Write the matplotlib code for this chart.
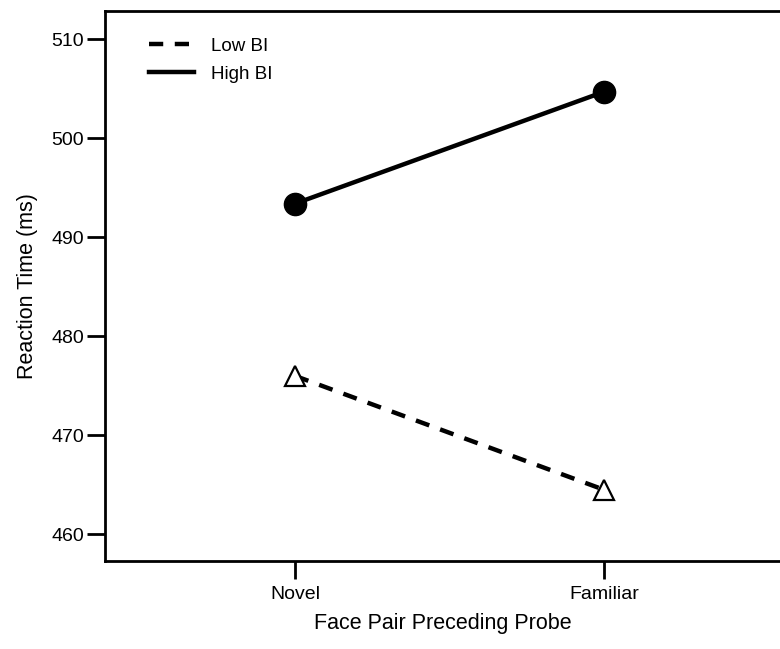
import matplotlib
matplotlib.use('Agg')
import matplotlib.pyplot as plt
from matplotlib.lines import Line2D

plt.rcParams['font.family'] = ['Liberation Sans', 'DejaVu Sans']

CONDITIONS = ['Novel', 'Familiar']
LOW_BI = [476.0, 464.5]
HIGH_BI = [493.4, 504.7]
Y_TICKS = [460, 470, 480, 490, 500, 510]

fig = plt.figure(figsize=(7.8, 6.49), dpi=100)
ax = fig.add_axes([0.1346, 0.1356, 0.8654, 0.848])

x = [1, 2]
ax.plot(x, LOW_BI, color='black', linewidth=3.2, linestyle=(0, (3.2, 2.6)),
        marker='^', markersize=15, markerfacecolor='white', markeredgecolor='black',
        markeredgewidth=1.6, label='Low BI')
ax.plot(x, HIGH_BI, color='black', linewidth=3.2, linestyle='-',
        marker='o', markersize=16, markerfacecolor='black', markeredgecolor='black',
        label='High BI')

ax.set_xlim(0.385, 2.57)
ax.set_ylim(457.3, 512.9)
ax.set_xticks(x)
ax.set_xticklabels(CONDITIONS)
ax.set_yticks(Y_TICKS)
ax.tick_params(axis='both', direction='out', length=13, width=2, labelsize=14, pad=2)
ax.tick_params(axis='x', pad=5)

for side in ['left', 'bottom', 'top']:
    ax.spines[side].set_linewidth(2)
ax.spines['right'].set_visible(False)

ax.set_xlabel('Face Pair Preceding Probe', fontsize=15.5, labelpad=7)
ax.set_ylabel('Reaction Time (ms)', fontsize=15.5, labelpad=10)

# legend handles are plain lines without markers
handles = [Line2D([], [], color='black', linewidth=3.2, linestyle=(0, (3.2, 2.6))),
           Line2D([], [], color='black', linewidth=3.2, linestyle='-')]
ax.legend(handles, ['Low BI', 'High BI'], loc='upper left', bbox_to_anchor=(0.04, 0.982),
          frameon=False, fontsize=13.5, handlelength=2.4, handletextpad=0.9, labelspacing=0.6)

fig.savefig('out.png', dpi=100)
